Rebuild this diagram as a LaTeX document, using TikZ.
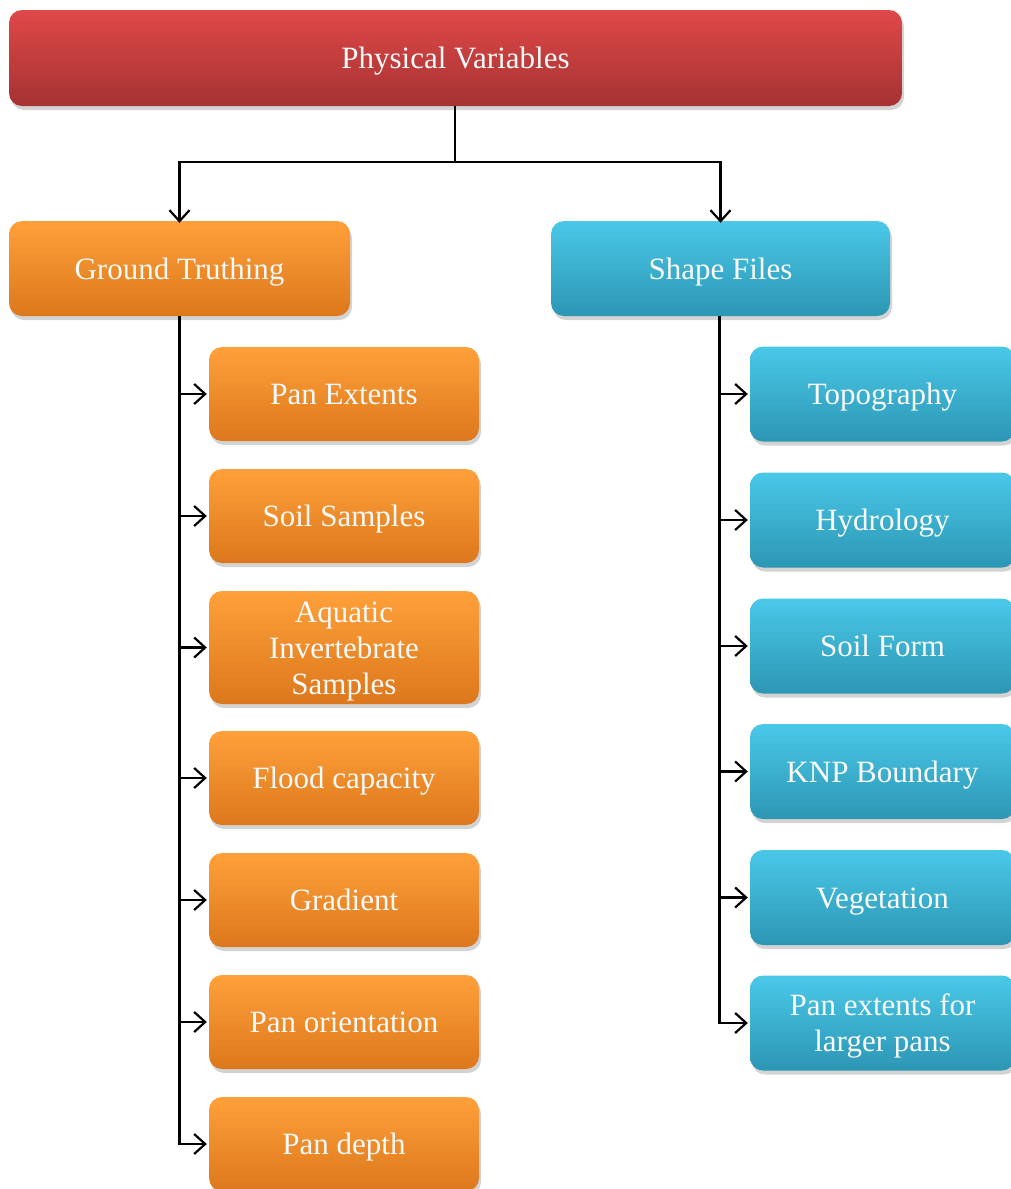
\documentclass[tikz,border=0pt]{standalone}
\usepackage{fontspec}
\setmainfont{Liberation Serif}
\usetikzlibrary{arrows.meta,shadows}
\definecolor{redtop}{HTML}{E04848}
\definecolor{redmid}{HTML}{CC3E3E}
\definecolor{redbot}{HTML}{A53232}
\definecolor{ortop}{HTML}{FFA03A}
\definecolor{ormid}{HTML}{F58E2A}
\definecolor{orbot}{HTML}{DC781C}
\definecolor{bltop}{HTML}{4AC8E8}
\definecolor{blmid}{HTML}{3AB4D6}
\definecolor{blbot}{HTML}{2C96B4}
\definecolor{txt}{HTML}{FAFAFA}
\newcommand{\bt}[1]{\raisebox{-3.5pt}[\height][\depth]{\begin{tabular}{@{}c@{}}#1\end{tabular}}}
\tikzset{
  box/.style={rounded corners=13pt, text=txt, inner sep=0pt,
    font=\fontsize{31}{36}\selectfont,
    drop shadow={opacity=0.35, shadow xshift=2pt, shadow yshift=-4pt}},
  redbox/.style={box, top color=redtop, middle color=redmid, bottom color=redbot},
  orbox/.style={box, top color=ortop, middle color=ormid, bottom color=orbot},
  blbox/.style={box, top color=bltop, middle color=blmid, bottom color=blbot},
  conn/.style={line width=2.2pt, draw=black, -{Straight Barb[length=11pt,width=20pt,line width=2.2pt]}},
  plain/.style={line width=2.2pt, draw=black}
}
\begin{document}
\begin{tikzpicture}[x=1pt,y=-1pt]
\useasboundingbox (0,0) rectangle (1011,1189);
\begin{scope}
\clip (0,0) rectangle (1011,1189);
% top
\node[redbox, minimum width=893pt, minimum height=96pt] (pv) at (455.5,58) {\bt{Physical Variables}};
% level 2
\node[orbox, minimum width=341pt, minimum height=95pt] (gt) at (179.5,268.5) {\bt{Ground Truthing}};
\node[blbox, minimum width=339pt, minimum height=95pt] (sf) at (720.5,268.5) {\bt{Shape Files}};
% left children
\node[orbox, minimum width=270pt, minimum height=94pt] (l1) at (344,394) {\bt{Pan Extents}};
\node[orbox, minimum width=270pt, minimum height=94pt] (l2) at (344,516) {\bt{Soil Samples}};
\node[orbox, minimum width=270pt, minimum height=113pt] (l3) at (344,647.5) {\bt{Aquatic\\Invertebrate\\Samples}};
\node[orbox, minimum width=270pt, minimum height=94pt] (l4) at (344,778) {\bt{Flood capacity}};
\node[orbox, minimum width=270pt, minimum height=94pt] (l5) at (344,900) {\bt{Gradient}};
\node[orbox, minimum width=270pt, minimum height=94pt] (l6) at (344,1022) {\bt{Pan orientation}};
\node[orbox, minimum width=270pt, minimum height=94pt] (l7) at (344,1144) {\bt{Pan depth}};
% right children
\node[blbox, minimum width=265pt, minimum height=95pt] (r1) at (882.5,394) {\bt{Topography}};
\node[blbox, minimum width=265pt, minimum height=95pt] (r2) at (882.5,520) {\bt{Hydrology}};
\node[blbox, minimum width=265pt, minimum height=95pt] (r3) at (882.5,646) {\bt{Soil Form}};
\node[blbox, minimum width=265pt, minimum height=95pt] (r4) at (882.5,771.5) {\bt{KNP Boundary}};
\node[blbox, minimum width=265pt, minimum height=95pt] (r5) at (882.5,897.5) {\bt{Vegetation}};
\node[blbox, minimum width=265pt, minimum height=95pt] (r6) at (882.5,1023) {\bt{Pan extents for\\larger pans}};
\end{scope}
% connectors
\coordinate (split) at (455,162);
\draw[plain] (pv.south -| split) -- (split);
\draw[conn] (split) -| ([yshift=-2pt]gt.north);
\draw[conn] (split) -| ([yshift=-2pt]sf.north);
\foreach \c in {l1,l2,l3,l4,l5,l6,l7}{
  \draw[conn] (gt.south) |- ([xshift=-2pt]\c.west);
}
\foreach \c in {r1,r2,r3,r4,r5,r6}{
  \draw[conn] ([xshift=-1pt]sf.south) |- ([xshift=-2pt]\c.west);
}
\end{tikzpicture}
\end{document}
